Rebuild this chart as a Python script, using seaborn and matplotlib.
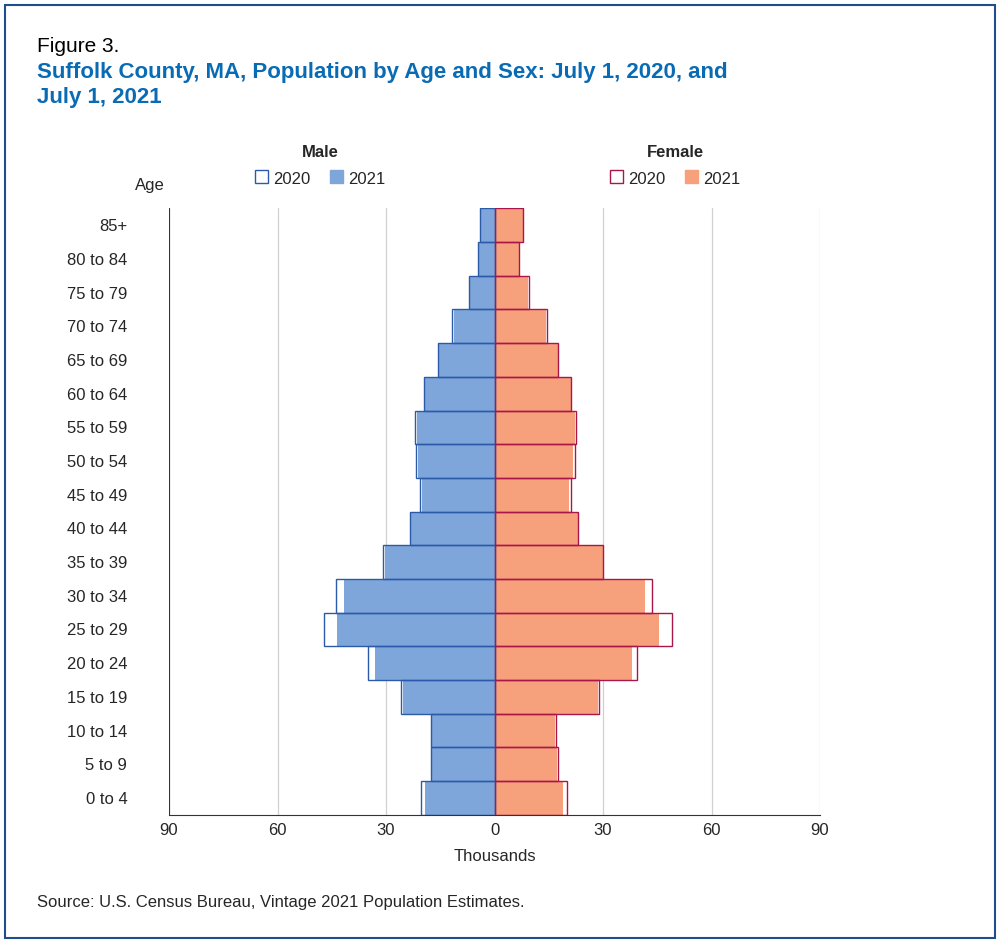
import matplotlib
matplotlib.use("Agg")
import matplotlib.pyplot as plt
from matplotlib.patches import Rectangle
import seaborn as sns
import pandas as pd

sns.set_style("white")
plt.rcParams["font.family"] = ["Liberation Sans", "DejaVu Sans"]

ages = ["85+", "80 to 84", "75 to 79", "70 to 74", "65 to 69", "60 to 64", "55 to 59",
        "50 to 54", "45 to 49", "40 to 44", "35 to 39", "30 to 34", "25 to 29",
        "20 to 24", "15 to 19", "10 to 14", "5 to 9", "0 to 4"]
male_2020 = [4.0, 4.5, 7.0, 11.7, 15.7, 19.5, 21.9, 21.7, 20.6, 23.4, 30.8, 43.9, 47.2,
             35.0, 25.8, 17.5, 17.5, 20.3]
male_2021 = [3.9, 4.4, 6.9, 11.1, 15.6, 19.4, 21.4, 21.1, 20.0, 23.3, 30.3, 41.7, 43.6,
             33.1, 25.3, 17.2, 17.2, 19.2]
female_2020 = [7.9, 6.8, 9.5, 14.4, 17.6, 21.2, 22.5, 22.2, 21.1, 23.2, 30.0, 43.6, 49.2,
               39.4, 28.9, 17.0, 17.5, 20.0]
female_2021 = [7.8, 6.7, 9.4, 14.2, 17.5, 21.1, 22.2, 21.7, 20.6, 23.1, 30.0, 41.7, 45.6,
               38.1, 28.6, 16.7, 17.2, 18.9]

df = pd.DataFrame({"age": ages,
                   "m20": [-v for v in male_2020], "m21": [-v for v in male_2021],
                   "f20": female_2020, "f21": female_2021})

male_fill, male_edge = "#7fa6da", "#2b5ba8"
fem_fill, fem_edge = "#f7a07c", "#a8164a"

fig = plt.figure(figsize=(10, 9.43), dpi=100)
ax = fig.add_axes([0.169, 0.136, 0.651, 0.643])

sns.barplot(data=df, y="age", x="m21", order=ages, color=male_fill, width=1,
            saturation=1, linewidth=0, ax=ax)
sns.barplot(data=df, y="age", x="f21", order=ages, color=fem_fill, width=1,
            saturation=1, linewidth=0, ax=ax)
sns.barplot(data=df, y="age", x="m20", order=ages, fill=False, color=male_edge, width=1,
            linewidth=1, ax=ax)
sns.barplot(data=df, y="age", x="f20", order=ages, fill=False, color=fem_edge, width=1,
            linewidth=1, ax=ax)

ax.set_xlim(-90, 90)
ax.set_ylim(len(ages) - 0.5, -0.5)
ax.set_xticks([-90, -60, -30, 0, 30, 60, 90])
ax.set_xticklabels(["90", "60", "30", "0", "30", "60", "90"], fontsize=12)
ax.tick_params(axis="y", labelsize=12, length=0, pad=30)
ax.tick_params(axis="x", length=0, pad=6)
for v in [-90, -60, -30, 30, 60, 90]:
    ax.axvline(v, color="#d0d0d0", lw=0.9, zorder=0)
for s in ["top", "right", "left"]:
    ax.spines[s].set_visible(False)
ax.spines["bottom"].set_color("#333333")
ax.axvline(-90, color="#333333", lw=0.8, zorder=0, ymin=0, ymax=1)
ax.set_ylabel("")
ax.set_xlabel("Thousands", fontsize=12, labelpad=8)
ax.set_axisbelow(True)

fig.text(0.037, 0.945, "Figure 3.", fontsize=15, color="black")
fig.text(0.037, 0.885, "Suffolk County, MA, Population by Age and Sex: July 1, 2020, and\nJuly 1, 2021",
         fontsize=16, color="#0a6bb5", fontweight="bold", va="bottom", linespacing=1.3)
fig.text(0.135, 0.798, "Age", fontsize=12)
fig.text(0.32, 0.833, "Male", fontsize=12, fontweight="bold", ha="center")
fig.text(0.675, 0.833, "Female", fontsize=12, fontweight="bold", ha="center")

def legend_box(x, face, edge, label):
    fig.patches.append(Rectangle((x, 0.806), 0.013, 0.014, transform=fig.transFigure,
                                 facecolor=face, edgecolor=edge, lw=1))
    fig.text(x + 0.018, 0.805, label, fontsize=12)

legend_box(0.255, "white", male_edge, "2020")
legend_box(0.33, male_fill, male_fill, "2021")
legend_box(0.61, "white", fem_edge, "2020")
legend_box(0.685, fem_fill, fem_fill, "2021")

fig.text(0.037, 0.038, "Source: U.S. Census Bureau, Vintage 2021 Population Estimates.", fontsize=12)
fig.patches.append(Rectangle((0.005, 0.005), 0.99, 0.99, transform=fig.transFigure,
                             fill=False, edgecolor="#1f4e8c", lw=1.5))

fig.savefig("out.png", dpi=100)
